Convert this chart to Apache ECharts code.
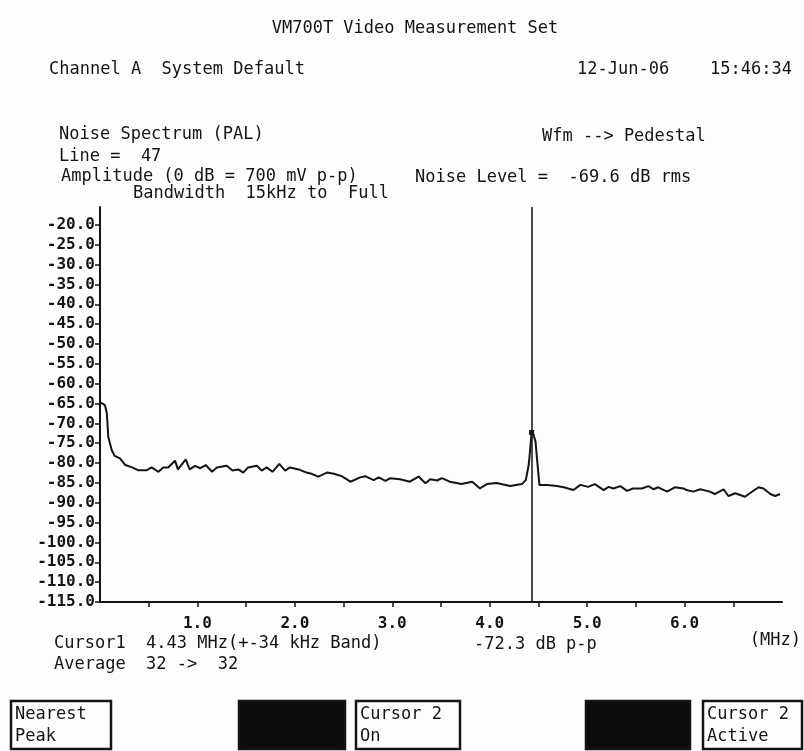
<!DOCTYPE html>
<html><head><meta charset="utf-8">
<script src="https://cdn.jsdelivr.net/npm/echarts@6/dist/echarts.min.js"></script>
<style>html,body{margin:0;padding:0;background:#fdfdfd}#c{width:804px;height:751px}</style>
</head><body><div id="c"></div>
<script>
// Noise spectrum trace (frequency in MHz, level in dB)
const freqMHz = [0.01,0.05,0.07,0.085,0.12,0.15,0.205,0.26,0.33,0.39,0.48,0.53,0.60,0.65,0.70,0.77,0.80,0.88,0.92,0.975,
  1.03,1.085,1.15,1.20,1.30,1.36,1.42,1.47,1.52,1.61,1.66,1.71,1.77,1.84,1.90,1.95,2.04,2.12,2.17,2.24,
  2.33,2.40,2.48,2.57,2.67,2.72,2.81,2.86,2.93,2.98,3.08,3.18,3.27,3.34,3.39,3.46,3.51,3.59,3.71,3.82,
  3.90,3.97,4.07,4.21,4.33,4.37,4.40,4.41,4.43,4.45,4.47,4.49,4.51,4.59,4.69,4.76,4.86,4.93,5.01,5.08,
  5.17,5.22,5.27,5.34,5.41,5.47,5.56,5.63,5.68,5.73,5.82,5.90,5.99,6.02,6.09,6.16,6.26,6.31,6.40,6.45,
  6.52,6.62,6.67,6.76,6.81,6.88,6.93,6.98];
const levelDb = [-64.8,-65.4,-67.4,-73.4,-76.7,-78.2,-78.8,-80.5,-81.1,-81.8,-81.8,-81.1,-82.2,-81.1,-81.1,-79.4,-81.6,-79.1,-81.6,-80.7,
  -81.3,-80.5,-82.2,-81.1,-80.7,-81.9,-81.6,-82.4,-81.1,-80.7,-81.9,-81.1,-82.2,-80.2,-81.9,-81.1,-81.6,-82.4,-82.7,-83.4,
  -82.4,-82.7,-83.3,-84.7,-83.6,-83.3,-84.3,-83.6,-84.5,-83.8,-84.1,-84.7,-83.4,-85.1,-84.1,-84.4,-83.8,-84.7,-85.3,-84.7,
  -86.4,-85.3,-85.0,-85.8,-85.3,-84.3,-80.5,-78.0,-72.3,-72.9,-74.6,-80.1,-85.5,-85.5,-85.8,-86.1,-86.8,-85.5,-86.0,-85.3,
  -86.8,-86.0,-86.4,-85.8,-87.0,-86.4,-86.4,-85.8,-86.6,-86.1,-87.2,-86.1,-86.4,-86.8,-87.2,-86.6,-87.2,-87.8,-86.6,-88.3,
  -87.6,-88.5,-87.6,-86.1,-86.4,-87.8,-88.3,-87.8];
const yTickValues = [-115,-110,-105,-100,-95,-90,-85,-80,-75,-70,-65,-60,-55,-50,-45,-40,-35,-30,-25,-20];
const xTickValues = [0.5,1,1.5,2,2.5,3,3.5,4,4.5,5,5.5,6,6.5];
const xLabelValues = [1,2,3,4,5,6];
const cursorFreq = 4.43;
const cursorLevel = -72.3;

const FONT = '"DejaVu Sans Mono","Liberation Mono",monospace';
const INK = '#141414';
function txt(t, x, y, opt) {
  opt = opt || {};
  return { type: 'text', x: x, y: y, z: 10,
    style: { text: t, fill: INK, font: (opt.size || 17) + 'px ' + FONT,
      align: opt.align || 'left', verticalAlign: 'middle' } };
}
function box(x, y, w, h, dark) {
  return { type: 'rect', z: 5, shape: { x: x, y: y, width: w, height: h },
    style: { fill: dark ? '#0c0c0c' : '#fdfdfd', stroke: INK, lineWidth: 2.5 } };
}

const chart = echarts.init(document.getElementById('c'), null, { renderer: 'canvas' });
chart.setOption({
  backgroundColor: '#fdfdfd',
  animation: false,
  grid: { left: 100, right: 22, top: 207, bottom: 149 },
  xAxis: {
    type: 'value', min: 0, max: 7.0,
    axisLine: { show: true, lineStyle: { color: INK, width: 2 } },
    axisTick: { show: true, customValues: xTickValues, length: 5, lineStyle: { color: INK, width: 1.5 } },
    axisLabel: { customValues: xLabelValues, formatter: v => v.toFixed(1), color: INK,
      fontFamily: FONT, fontSize: 16, fontWeight: 'bold', margin: 14 },
    splitLine: { show: false }
  },
  yAxis: {
    type: 'value', min: -115, max: -15.5,
    axisLine: { show: true, lineStyle: { color: INK, width: 2 } },
    axisTick: { show: true, customValues: yTickValues, length: 5, lineStyle: { color: INK, width: 1.5 } },
    axisLabel: { customValues: yTickValues, formatter: v => v.toFixed(1), color: INK,
      fontFamily: FONT, fontSize: 16, fontWeight: 'bold', margin: 5 },
    splitLine: { show: false }
  },
  series: [{
    type: 'line',
    data: freqMHz.map((f, i) => [f, levelDb[i]]),
    showSymbol: false,
    lineStyle: { color: INK, width: 2 },
    markLine: {
      silent: true, symbol: 'none', label: { show: false },
      lineStyle: { color: INK, width: 1.5, type: 'solid' },
      data: [{ xAxis: cursorFreq }]
    },
    markPoint: {
      silent: true, symbol: 'rect', symbolSize: 5, label: { show: false },
      itemStyle: { color: INK },
      data: [{ coord: [cursorFreq, cursorLevel] }]
    }
  }],
  graphic: [
    txt('VM700T Video Measurement Set', 415, 29, { align: 'center' }),
    txt('Channel A  System Default', 49, 70),
    txt('12-Jun-06', 577, 70),
    txt('15:46:34', 710, 70),
    txt('Noise Spectrum (PAL)', 59, 135),
    txt('Line =  47', 59, 157),
    txt('Wfm --> Pedestal', 542, 137),
    txt('Amplitude (0 dB = 700 mV p-p)', 61, 177),
    txt('Noise Level =  -69.6 dB rms', 415, 178),
    txt('Bandwidth  15kHz to  Full', 133, 194),
    txt('Cursor1  4.43 MHz(+-34 kHz Band)', 54, 644),
    txt('-72.3 dB p-p', 474, 645),
    txt('(MHz)', 801, 641, { align: 'right' }),
    txt('Average  32 ->  32', 54, 665),
    box(11, 701, 100, 48, false),
    txt('Nearest', 15, 715),
    txt('Peak', 15, 737),
    box(239, 701, 106, 48, true),
    box(356, 701, 104, 48, false),
    txt('Cursor 2', 360, 715),
    txt('On', 360, 737),
    box(586, 701, 104, 48, true),
    box(703, 701, 99, 48, false),
    txt('Cursor 2', 707, 715),
    txt('Active', 707, 737)
  ]
});
</script>
</body></html>
